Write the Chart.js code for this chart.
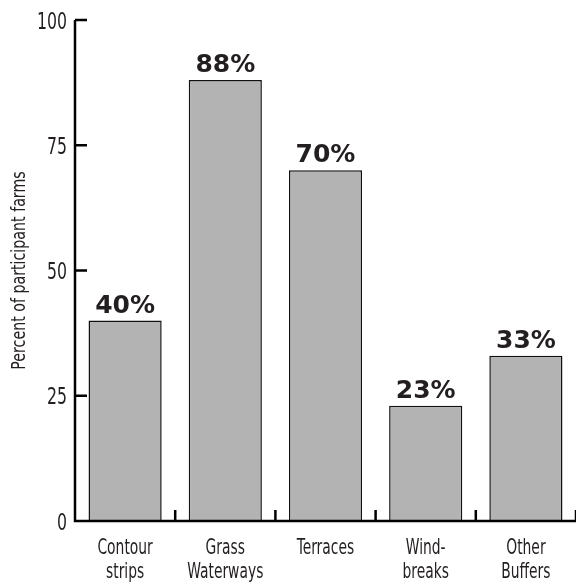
<!DOCTYPE html>
<html>
<head>
<meta charset="utf-8">
<script src="https://cdn.jsdelivr.net/npm/chart.js@4"></script>
<style>
  html, body { margin: 0; padding: 0; background: #fff; }
  #wrap { width: 576px; height: 585px; }
</style>
</head>
<body>
<div id="wrap"><canvas id="c" width="576" height="585"></canvas></div>
<script>
const categories = [["Contour", "strips"], ["Grass", "Waterways"], ["Terraces"], ["Wind-", "breaks"], ["Other", "Buffers"]];
const percentFarms = [40, 88, 70, 23, 33];
const yTicks = [0, 25, 50, 75, 100];
const yTitle = 'Percent of participant farms';

const INK = '#231f20';
const COND = '"DejaVu Sans Condensed", "DejaVu Sans", sans-serif';

// Draw text squeezed horizontally to get a narrow, tall letterform
function narrowText(ctx, text, x, y, size, squeeze, align) {
  ctx.save();
  ctx.font = size + 'px ' + COND;
  ctx.textBaseline = 'alphabetic';
  const w = ctx.measureText(text).width * squeeze;
  let left = x;
  if (align === 'center') left = x - w / 2;
  else if (align === 'right') left = x - w;
  ctx.translate(left, y);
  ctx.scale(squeeze, 1);
  ctx.textAlign = 'left';
  ctx.fillText(text, 0, 0);
  ctx.restore();
}

// Axis lines, inward ticks, tick labels, axis title and bar value labels
const decorations = {
  id: 'decorations',
  afterDatasetsDraw(chart) {
    const ctx = chart.ctx;
    const x = chart.scales.x, y = chart.scales.y;
    const meta = chart.getDatasetMeta(0);
    ctx.save();
    ctx.fillStyle = INK;

    // value labels
    ctx.font = 'bold 25px "DejaVu Sans", sans-serif';
    ctx.textAlign = 'center';
    ctx.textBaseline = 'alphabetic';
    meta.data.forEach((bar, i) => {
      ctx.fillText(percentFarms[i] + '%', bar.x, bar.y - 8);
    });

    // axes
    ctx.strokeStyle = '#000';
    ctx.lineWidth = 2.5;
    ctx.beginPath();
    ctx.moveTo(x.left, y.top);
    ctx.lineTo(x.left, y.bottom);
    ctx.lineTo(x.right, y.bottom);
    y.ticks.forEach(t => {
      const py = y.getPixelForValue(t.value);
      ctx.moveTo(x.left, py);
      ctx.lineTo(x.left + 12, py);
    });
    const step = x.getPixelForValue(1) - x.getPixelForValue(0);
    for (let i = 0; i < categories.length; i++) {
      const px = x.getPixelForValue(i) + step / 2;
      ctx.moveTo(px, y.bottom);
      ctx.lineTo(px, y.bottom - 11);
    }
    ctx.stroke();

    // y tick labels
    y.ticks.forEach(t => {
      const py = y.getPixelForValue(t.value);
      narrowText(ctx, String(t.value), x.left - 8, py + 8.5, 23, 0.76, 'right');
    });

    // category labels
    chart.data.labels.forEach((lines, i) => {
      const px = x.getPixelForValue(i);
      lines.forEach((line, j) => {
        narrowText(ctx, line, px, y.bottom + 33 + j * 24, 22, 0.7, 'center');
      });
    });

    // y title
    ctx.save();
    ctx.translate(25, (y.top + y.bottom) / 2);
    ctx.rotate(-Math.PI / 2);
    narrowText(ctx, yTitle, 0, 0, 20, 0.79, 'center');
    ctx.restore();

    ctx.restore();
  }
};

new Chart(document.getElementById('c'), {
  type: 'bar',
  data: {
    labels: categories,
    datasets: [{
      data: percentFarms,
      backgroundColor: '#b3b3b3',
      borderColor: '#111',
      borderWidth: { top: 1.5, left: 1.5, right: 1.5, bottom: 0 },
      borderSkipped: 'bottom',
      barPercentage: 0.73,
      categoryPercentage: 1.0
    }]
  },
  options: {
    responsive: false,
    animation: false,
    devicePixelRatio: 1,
    layout: { padding: { top: 20, right: 0, left: 0, bottom: 0 } },
    plugins: { legend: { display: false }, tooltip: { enabled: false } },
    scales: {
      x: {
        grid: { display: false, drawTicks: false },
        border: { display: false },
        ticks: { display: false, autoSkip: false },
        afterFit(s) { s.height = 64; }
      },
      y: {
        min: 0,
        max: 100,
        afterBuildTicks(s) { s.ticks = yTicks.map(v => ({ value: v })); },
        grid: { display: false, drawTicks: false },
        border: { display: false },
        ticks: { display: false },
        afterFit(s) { s.width = 75; }
      }
    }
  },
  plugins: [decorations]
});
</script>
</body>
</html>
